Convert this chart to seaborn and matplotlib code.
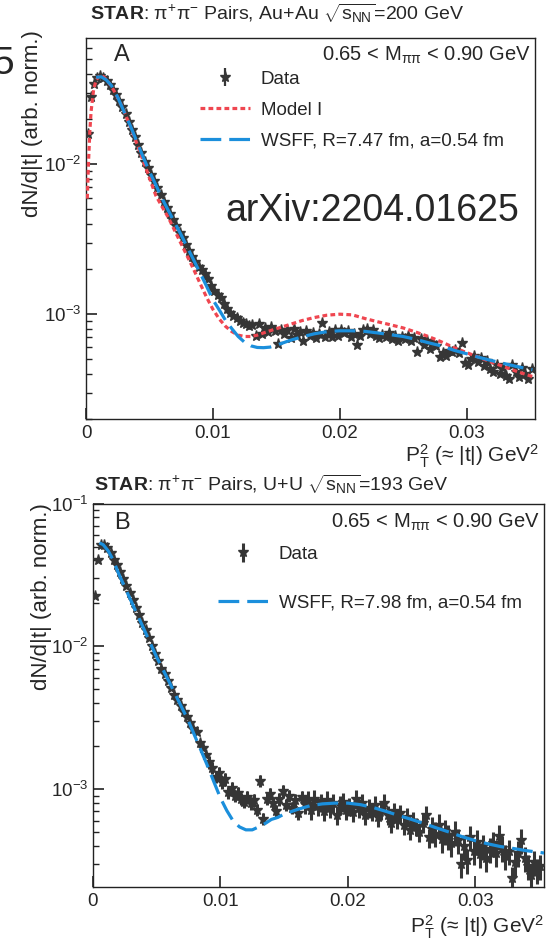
import matplotlib as mtl
mtl.use('Agg')
import numpy as np
import matplotlib.pyplot as plt
import matplotlib.ticker as tic
import seaborn as sns

# bin centres (|t| bins of 0.00025 GeV^2)
t_bins = np.arange(141) * 0.00025 + 0.000125

# panel A, Au+Au 200 GeV data (x 1e-3)
data_a = np.array([
    16.0, 28.0, 34.5, 37.5, 38.5, 37.8, 36.0, 33.8, 31.5, 29.0,
    26.5, 24.0, 21.5, 19.2, 17.0, 15.2, 13.4, 11.9, 10.4, 9.4,
    8.5, 7.7, 6.9, 6.2, 5.6, 5.1, 4.65, 4.25, 3.85, 3.5,
    3.2, 2.9, 2.65, 2.42, 2.22, 2.05, 1.98, 1.85, 1.72, 1.55,
    1.42, 1.35, 1.28, 1.17, 1.08, 1.02, 0.97, 0.94, 0.90, 0.88,
    0.86, 0.83, 0.85, 0.72, 0.86, 0.74, 0.81, 0.76, 0.82, 0.77,
    0.63, 0.79, 0.74, 0.78, 0.69, 0.80, 0.73, 0.76, 0.66, 0.77,
    0.71, 0.75, 0.69, 0.74, 0.87, 0.70, 0.76, 0.70, 0.78, 0.72,
    0.79, 0.75, 0.77, 0.70, 0.74, 0.62, 0.72, 0.78, 0.80, 0.74,
    0.79, 0.71, 0.69, 0.73, 0.70, 0.75, 0.68, 0.71, 0.66, 0.70,
    0.68, 0.72, 0.66, 0.69, 0.56, 0.68, 0.62, 0.66, 0.59, 0.64,
    0.61, 0.52, 0.55, 0.53, 0.57, 0.56, 0.58, 0.55, 0.64, 0.47,
    0.46, 0.50, 0.53, 0.48, 0.51, 0.45, 0.49, 0.43, 0.41, 0.46,
    0.40, 0.44, 0.39, 0.37, 0.46, 0.41, 0.38, 0.44, 0.40, 0.37,
    0.43]) * 1e-3
relerr_a = np.array([0.01] * 40 + [0.04] * 101)

# panel B, U+U 193 GeV data (x 1e-3)
data_b = np.array([
    22.4, 40.5, 51.5, 51.0, 48.5, 45.0, 40.5, 37.0, 33.0, 29.5,
    26.5, 23.5, 21.0, 18.7, 16.6, 14.6, 13.0, 11.5, 10.1, 8.9,
    7.9, 7.0, 6.4, 5.7, 5.1, 4.6, 4.2, 3.8, 3.5, 3.2,
    2.9, 2.65, 2.5, 2.1, 1.95, 1.75, 1.55, 1.42, 1.22, 1.30,
    1.12, 1.18, 0.95, 1.02, 0.90, 0.94, 0.86, 0.82, 0.88, 0.80,
    0.84, 0.72, 1.15, 0.62, 0.86, 0.93, 0.80, 0.70, 0.85, 0.97,
    0.78, 0.90, 0.74, 0.84, 0.68, 0.88, 0.79, 0.84, 0.72, 0.86,
    0.76, 0.81, 0.70, 0.84, 0.74, 0.80, 0.66, 0.78, 0.82, 0.72,
    0.76, 0.69, 0.86, 0.74, 0.80, 0.66, 0.74, 0.70, 0.78, 0.64,
    0.72, 0.80, 0.66, 0.58, 0.70, 0.62, 0.68, 0.56, 0.64, 0.52,
    0.60, 0.55, 0.50, 0.58, 0.66, 0.46, 0.53, 0.49, 0.56, 0.45,
    0.51, 0.47, 0.42, 0.50, 0.44, 0.30, 0.40, 0.32, 0.46, 0.37,
    0.43, 0.35, 0.40, 0.33, 0.38, 0.42, 0.36, 0.47, 0.39, 0.34,
    0.37, 0.24, 0.31, 0.36, 0.44, 0.33, 0.29, 0.25, 0.31, 0.27,
    0.29]) * 1e-3
relerr_b = np.array([0.02] * 36 + [0.10] * 30 + [0.15] * 40 + [0.20] * 35)

# model curves (x 1e-3)
wsff_a_t = [0.0008, 0.0012, 0.0016, 0.002, 0.0025, 0.003, 0.0035, 0.004, 0.0045, 0.005,
            0.0055, 0.006, 0.0065, 0.007, 0.0075, 0.008, 0.0085, 0.009, 0.0095, 0.010,
            0.0105, 0.011, 0.0115, 0.012, 0.0125, 0.013, 0.0135, 0.014, 0.0145, 0.015,
            0.016, 0.017, 0.018, 0.019, 0.020, 0.021, 0.022, 0.023, 0.024, 0.025,
            0.026, 0.027, 0.028, 0.029, 0.030, 0.031, 0.032, 0.033, 0.034, 0.0352]
wsff_a = np.array([38.0, 38.3, 36.5, 33.5, 28.0, 22.4, 18.0, 14.2, 11.2, 8.95,
                   7.3, 5.9, 4.9, 4.07, 3.38, 2.78, 2.29, 1.88, 1.54, 1.25,
                   1.07, 0.91, 0.80, 0.71, 0.65, 0.615, 0.60, 0.598, 0.603, 0.62,
                   0.665, 0.705, 0.74, 0.765, 0.775, 0.775, 0.768, 0.75, 0.73, 0.71,
                   0.68, 0.645, 0.615, 0.575, 0.545, 0.515, 0.49, 0.468, 0.447, 0.426]) * 1e-3

model_a_t = [0.0001, 0.0002, 0.0003, 0.0004, 0.0006, 0.0008, 0.0011, 0.0014, 0.0018, 0.0022,
             0.0026, 0.003, 0.0035, 0.004, 0.0045, 0.005, 0.0055, 0.006, 0.0065, 0.007,
             0.0075, 0.008, 0.0085, 0.009, 0.0095, 0.010, 0.0105, 0.011, 0.0115, 0.012,
             0.0125, 0.013, 0.0135, 0.014, 0.015, 0.016, 0.017, 0.018, 0.019, 0.020,
             0.021, 0.022, 0.023, 0.024, 0.025, 0.026, 0.027, 0.028, 0.029, 0.030,
             0.031, 0.032, 0.033, 0.034, 0.0352]
model_a = np.array([5.9, 10.4, 16.5, 22.5, 31.5, 36.5, 39.2, 38.3, 35.0, 31.0,
                    26.8, 22.5, 17.8, 13.8, 10.6, 8.1, 6.2, 5.2, 4.4, 3.6,
                    2.95, 2.42, 1.98, 1.6, 1.3, 1.08, 0.93, 0.83, 0.765, 0.725,
                    0.71, 0.71, 0.725, 0.75, 0.80, 0.85, 0.905, 0.95, 0.985, 1.0,
                    0.99, 0.935, 0.89, 0.85, 0.81, 0.76, 0.71, 0.655, 0.60, 0.555,
                    0.515, 0.478, 0.445, 0.414, 0.384]) * 1e-3

wsff_b_t = [0.0005, 0.0008, 0.0012, 0.0016, 0.002, 0.0025, 0.003, 0.0035, 0.004, 0.0045,
            0.005, 0.0055, 0.006, 0.0065, 0.007, 0.0075, 0.008, 0.0085, 0.009, 0.0095,
            0.010, 0.0105, 0.011, 0.0115, 0.012, 0.0125, 0.013, 0.0135, 0.014, 0.0145,
            0.015, 0.016, 0.017, 0.018, 0.019, 0.020, 0.021, 0.022, 0.023, 0.024,
            0.025, 0.026, 0.027, 0.028, 0.029, 0.030, 0.031, 0.032, 0.033, 0.034, 0.0354]
wsff_b = np.array([53.0, 51.5, 46.5, 40.0, 32.5, 25.9, 20.7, 16.5, 13.2, 10.5,
                   8.4, 6.85, 5.6, 4.54, 3.69, 3.0, 2.35, 1.85, 1.45, 1.12,
                   0.87, 0.71, 0.60, 0.545, 0.52, 0.52, 0.545, 0.575, 0.615, 0.635,
                   0.67, 0.72, 0.765, 0.79, 0.80, 0.80, 0.78, 0.745, 0.70, 0.655,
                   0.615, 0.575, 0.535, 0.50, 0.465, 0.437, 0.415, 0.397, 0.385, 0.372, 0.358]) * 1e-3

RED = '#ef4650'
BLUE = '#1b8fdc'
DARK = '#363636'

sns.set_theme(style='white')
plt.rcParams['font.family'] = ['Liberation Sans', 'DejaVu Sans']
plt.rcParams['mathtext.fontset'] = 'custom'
plt.rcParams['mathtext.rm'] = 'Liberation Sans'
plt.rcParams['mathtext.it'] = 'Liberation Sans:italic'
plt.rcParams['mathtext.bf'] = 'Liberation Sans:bold'
plt.rcParams['axes.edgecolor'] = '#222222'
plt.rcParams['axes.linewidth'] = 1.0

fig = plt.figure(figsize=(5.52, 9.42), dpi=100)
ax1 = fig.add_axes([86 / 552, 1 - 419 / 942, 449 / 552, 381 / 942])
ax2 = fig.add_axes([93 / 552, 1 - 887 / 942, 451 / 552, 383.5 / 942])


def style_axis(ax, ylim):
    ax.set_yscale('log')
    ax.set_xlim(0, 0.0354)
    ax.set_ylim(*ylim)
    ax.xaxis.set_major_locator(tic.FixedLocator([0, 0.01, 0.02, 0.03]))
    ax.xaxis.set_major_formatter(tic.FuncFormatter(lambda v, p: '%g' % round(v, 3)))
    ax.xaxis.set_minor_locator(tic.NullLocator())
    ax.yaxis.set_major_locator(tic.LogLocator(base=10))
    ax.yaxis.set_minor_locator(tic.LogLocator(base=10, subs=np.arange(2, 10)))
    ax.yaxis.set_minor_formatter(tic.NullFormatter())
    ax.tick_params(axis='both', which='major', direction='in', length=8, width=1.2,
                   color='#222222', labelsize=13.5, top=False, right=False, left=True, bottom=True)
    ax.tick_params(axis='x', which='major', pad=4)
    ax.tick_params(axis='y', which='minor', direction='in', length=4.5, width=1.0,
                   color='#222222', left=True, right=False)
    for s in ax.spines.values():
        s.set_visible(True)


style_axis(ax1, (2.0e-4, 0.0695))
style_axis(ax2, (2.07e-4, 0.1))

LEG_FS = 13.5
ds_red = (0, (1.5, 1.0))
ds_blue = (0, (6.5, 2.5))
XLAB = r'P$_{\mathrm{T}}^{2}$ (≈ |t|) GeV$^{2}$'

# panel A
dat_a = ax1.errorbar(t_bins, data_a, yerr=data_a * relerr_a, fmt='*', color=DARK,
                     ms=8, elinewidth=1.6, capsize=0, zorder=3)
sns.lineplot(x=model_a_t, y=model_a, ax=ax1, color=RED, lw=2.3, linestyle=ds_red, zorder=4)
sns.lineplot(x=wsff_a_t, y=wsff_a, ax=ax1, color=BLUE, lw=2.3, linestyle=ds_blue, zorder=5)
h_model = plt.Line2D([], [], color=RED, lw=2.3, linestyle=ds_red)
h_wsff = plt.Line2D([], [], color=BLUE, lw=2.3, linestyle=ds_blue)
ax1.legend([dat_a, h_model, h_wsff], ['Data', 'Model I', 'WSFF, R=7.47 fm, a=0.54 fm'],
           loc='upper left', bbox_to_anchor=(0.254, 0.915), frameon=False, fontsize=LEG_FS,
           handlelength=2.65, handletextpad=0.6, labelspacing=0.75, borderpad=0, borderaxespad=0)
ax1.text(0.08, 0.955, 'A', transform=ax1.transAxes, fontsize=17, ha='center', va='center')
ax1.text(0.99, 0.955, r'0.65 < M$_{\mathrm{\pi\pi}}$ < 0.90 GeV', transform=ax1.transAxes,
         fontsize=14.5, ha='right', va='center')
ax1.text(0.31, 0.545, 'arXiv:2204.01625', transform=ax1.transAxes, fontsize=27,
         ha='left', va='center')
ax1.set_ylabel('dN/d|t| (arb. norm.)', fontsize=16, loc='top')
ax1.yaxis.set_label_coords(-0.095, 1.02)
ax1.set_xlabel(XLAB, fontsize=15, loc='right')
ax1.xaxis.set_label_coords(1.01, -0.062)
ax1.xaxis.label.set_va('top')

# panel B
dat_b = ax2.errorbar(t_bins, data_b, yerr=data_b * relerr_b, fmt='*', color=DARK,
                     ms=8, elinewidth=2.2, capsize=0, zorder=3)
sns.lineplot(x=wsff_b_t, y=wsff_b, ax=ax2, color=BLUE, lw=2.3, linestyle=ds_blue, zorder=5)
ax2.legend([dat_b, h_wsff], ['Data', 'WSFF, R=7.98 fm, a=0.54 fm'],
           loc='upper left', bbox_to_anchor=(0.277, 0.89), frameon=False, fontsize=LEG_FS,
           handlelength=2.65, handletextpad=0.6, labelspacing=1.7, borderpad=0, borderaxespad=0)
ax2.text(0.065, 0.95, 'B', transform=ax2.transAxes, fontsize=17, ha='center', va='center')
ax2.text(0.99, 0.95, r'0.65 < M$_{\mathrm{\pi\pi}}$ < 0.90 GeV', transform=ax2.transAxes,
         fontsize=14.5, ha='right', va='center')
ax2.set_ylabel('dN/d|t| (arb. norm.)', fontsize=16, loc='top')
ax2.yaxis.set_label_coords(-0.09, 1.0)
ax2.set_xlabel(XLAB, fontsize=15, loc='right')
ax2.xaxis.set_label_coords(1.0, -0.069)
ax2.xaxis.label.set_va('top')

fig.text(277 / 552, 1 - 13 / 942,
         r'$\mathbf{STAR}$: $\mathrm{\pi^{+}\pi^{-}}$ Pairs, Au+Au $\sqrt{\mathrm{s_{NN}}}$=200 GeV',
         fontsize=14, ha='center', va='center')
fig.text(271 / 552, 1 - 484 / 942,
         r'$\mathbf{STAR}$: $\mathrm{\pi^{+}\pi^{-}}$ Pairs, U+U $\sqrt{\mathrm{s_{NN}}}$=193 GeV',
         fontsize=14, ha='center', va='center')
fig.text(-0.013, 1 - 64 / 942, '5', fontsize=28, ha='left', va='center')

fig.savefig('out.png', dpi=100)
